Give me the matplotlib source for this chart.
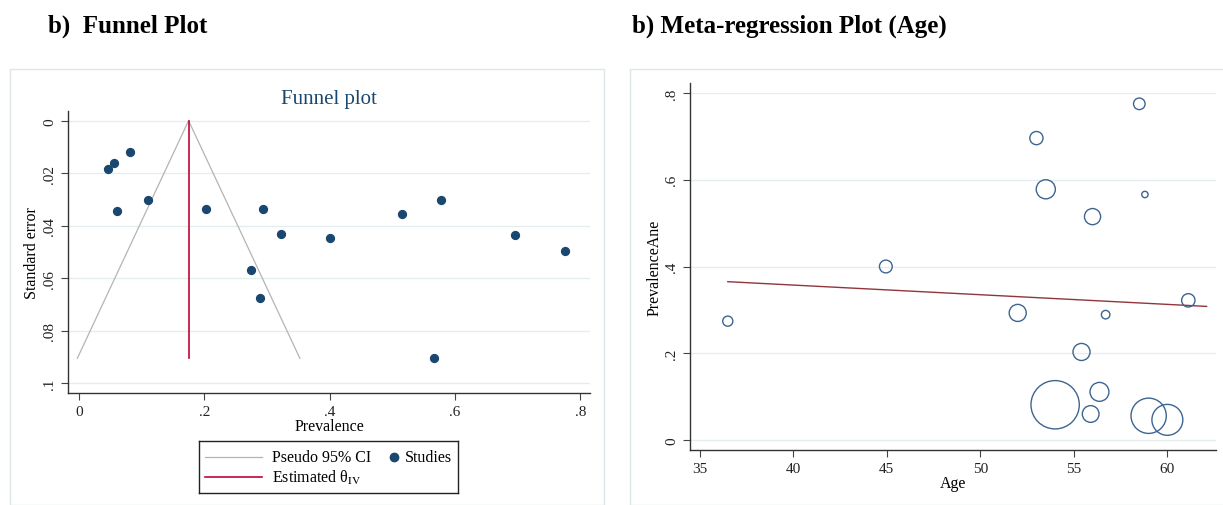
import matplotlib
matplotlib.use("Agg")
import matplotlib.pyplot as plt
from matplotlib.patches import Rectangle

plt.rcParams['font.family'] = ['Liberation Serif', 'DejaVu Serif']
plt.rcParams['mathtext.fontset'] = 'stix'

# study level data
prevalence = [0.0465, 0.0559, 0.0813, 0.060, 0.111, 0.203, 0.293, 0.322,
              0.400, 0.515, 0.578, 0.696, 0.775, 0.274, 0.289, 0.566]
std_err = [0.0186, 0.0163, 0.0119, 0.0344, 0.0304, 0.0337, 0.0337, 0.0431,
           0.0449, 0.0356, 0.0301, 0.0436, 0.0497, 0.0568, 0.0676, 0.0906]
age = [60.0, 59.0, 54.0, 55.9, 56.37, 55.41, 52.0, 61.12,
       44.95, 56.0, 53.5, 53.0, 58.5, 36.5, 56.7, 58.8]

theta_iv = 0.175
fit_age = [36.5, 62.1]
fit_prev = [0.365, 0.308]

navy = '#1a476f'
ci_col = '#b4b4b4'
est_col = '#c10534'
grid_col = '#e4eef0'

fig = plt.figure(figsize=(12.23, 5.06), dpi=100)
W, H = 1223, 506

# panel frames
fig.patches.append(Rectangle((10 / W, 0), 594 / W, 1 - 70 / H, transform=fig.transFigure,
                             fill=False, edgecolor='#dfe6e9', lw=1))
fig.patches.append(Rectangle((630 / W, 0), 600 / W, 1 - 70 / H, transform=fig.transFigure,
                             fill=False, edgecolor='#dfe6e9', lw=1))

fig.text(48 / W, 1 - 33 / H, 'b)  Funnel Plot', fontsize=18, fontweight='bold')
fig.text(632 / W, 1 - 33 / H, 'b) Meta-regression Plot (Age)', fontsize=18, fontweight='bold')


def style(ax):
    for s in ['top', 'right']:
        ax.spines[s].set_visible(False)
    for s in ['left', 'bottom']:
        ax.spines[s].set_color('#333333')
        ax.spines[s].set_linewidth(1.0)
    ax.tick_params(direction='out', length=5, width=0.8, color='#444444',
                   labelsize=11, labelcolor='#222222')
    ax.tick_params(axis='y', labelrotation=90)
    ax.grid(axis='y', color=grid_col, lw=1)
    ax.set_axisbelow(True)


# ---- funnel plot
ax1 = fig.add_axes([68 / W, 1 - 394 / H, 522 / W, 282 / H])
se_max = max(std_err)
ax1.plot([theta_iv - 1.96 * se_max, theta_iv, theta_iv + 1.96 * se_max],
         [se_max, 0, se_max], color=ci_col, lw=0.9)
ax1.plot([theta_iv, theta_iv], [0, se_max], color=est_col, lw=1.2)
ax1.scatter(prevalence, std_err, s=32, color=navy, zorder=3)
ax1.set_xlim(-0.0174, 0.8155)
ax1.set_ylim(0.1038, -0.0037)
ax1.set_xticks([0, 0.2, 0.4, 0.6, 0.8])
ax1.set_xticklabels(['0', '.2', '.4', '.6', '.8'])
ax1.set_yticks([0, 0.02, 0.04, 0.06, 0.08, 0.1])
ax1.set_yticklabels(['0', '.02', '.04', '.06', '.08', '.1'], va='center')
style(ax1)
ax1.set_xlabel('Prevalence', fontsize=11.5, labelpad=0)
ax1.set_ylabel('Standard error', fontsize=11.5, labelpad=2)
ax1.set_title('Funnel plot', fontsize=15, color=navy, pad=6)

# legend box drawn below the funnel plot
lg = fig.add_axes([199 / W, 1 - 494 / H, 259 / W, 52 / H])
lg.set_xlim(0, 259)
lg.set_ylim(52, 0)
lg.set_xticks([])
lg.set_yticks([])
for s in lg.spines.values():
    s.set_color('#222222')
    s.set_linewidth(1.0)
lg.plot([6, 63], [16, 16], color=ci_col, lw=0.9)
lg.plot([6, 63], [36, 36], color=est_col, lw=1.2)
lg.plot([195], [16], 'o', ms=6, color=navy)
lg.text(73, 16, 'Pseudo 95% CI', fontsize=11.5, va='center')
lg.text(73, 36, r'Estimated θ$_{\mathrm{IV}}$', fontsize=11.5, va='center')
lg.text(206, 16, 'Studies', fontsize=11.5, va='center')

# ---- meta-regression bubble plot
ax2 = fig.add_axes([690 / W, 1 - 451 / H, 526 / W, 367 / H])
sizes = [0.1715 / s ** 2 for s in std_err]
ax2.scatter(age, prevalence, s=sizes, facecolors='none', edgecolors='#3d6590',
            linewidths=1.0, zorder=3)
ax2.plot(fit_age, fit_prev, color='#90353b', lw=1.0, zorder=2)
ax2.set_xlim(34.48, 62.6)
ax2.set_ylim(-0.023, 0.823)
ax2.set_xticks([35, 40, 45, 50, 55, 60])
ax2.set_yticks([0, 0.2, 0.4, 0.6, 0.8])
ax2.set_yticklabels(['0', '.2', '.4', '.6', '.8'], va='center')
style(ax2)
ax2.set_xlabel('Age', fontsize=11.5, labelpad=0)
ax2.set_ylabel('PrevalenceAne', fontsize=11.5, labelpad=2)

fig.savefig('out.png', dpi=100)
